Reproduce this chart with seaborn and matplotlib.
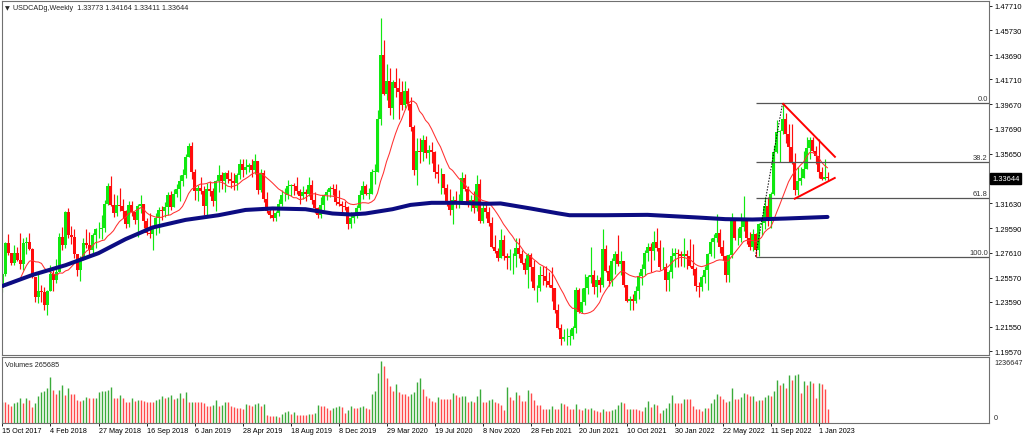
import numpy as np
import pandas as pd
import matplotlib
matplotlib.use("Agg")
import matplotlib.pyplot as plt
import seaborn as sns

# ---------------- data (weekly USDCAD) ----------------
start_label_dates = ["15 Oct 2017", "4 Feb 2018", "27 May 2018", "16 Sep 2018", "6 Jan 2019",
                     "28 Apr 2019", "18 Aug 2019", "8 Dec 2019", "29 Mar 2020", "19 Jul 2020",
                     "8 Nov 2020", "28 Feb 2021", "20 Jun 2021", "10 Oct 2021", "30 Jan 2022",
                     "22 May 2022", "11 Sep 2022", "1 Jan 2023"]

# closes of the 12 weeks before the first visible bar (needed for the moving average)
prior_closes = [1.2450, 1.2700, 1.2710, 1.2600, 1.2500, 1.2420, 1.2150, 1.2200, 1.2340, 1.2480, 1.2550, 1.2470]

closes = [
    # 2017
    1.2590, 1.2840, 1.2760, 1.2680, 1.2760, 1.2700, 1.2670, 1.2840, 1.2850, 1.2790, 1.2560,
    # 2018
    1.2400, 1.2450, 1.2440, 1.2330, 1.2450, 1.2590, 1.2540, 1.2600, 1.2890, 1.2820, 1.3090, 1.2900, 1.2890,
    1.2750, 1.2620, 1.2700, 1.2840, 1.2820, 1.2780, 1.2900, 1.2950, 1.2950, 1.2960, 1.3160, 1.3300, 1.3150,
    1.3080, 1.3150, 1.3140, 1.3100, 1.2990, 1.3150, 1.3090, 1.3030, 1.3140, 1.3160, 1.3020, 1.2920, 1.2910,
    1.2960, 1.3040, 1.3110, 1.3100, 1.3130, 1.3230, 1.3130, 1.3240, 1.3280, 1.3340, 1.3390, 1.3540, 1.3630,
    # 2019
    1.3420, 1.3260, 1.3290, 1.3260, 1.3140, 1.3280, 1.3260, 1.3180, 1.3340, 1.3390, 1.3340, 1.3410, 1.3360,
    1.3340, 1.3330, 1.3390, 1.3480, 1.3430, 1.3460, 1.3470, 1.3430, 1.3510, 1.3270, 1.3410, 1.3200, 1.3100,
    1.3070, 1.3040, 1.3080, 1.3160, 1.3230, 1.3230, 1.3300, 1.3310, 1.3300, 1.3260, 1.3220, 1.3250, 1.3240,
    1.3310, 1.3190, 1.3120, 1.3070, 1.3150, 1.3230, 1.3250, 1.3290, 1.3280, 1.3170, 1.3160, 1.3140, 1.3130,
    1.2990,
    # 2020
    1.3040, 1.3070, 1.3120, 1.3230, 1.3300, 1.3240, 1.3240, 1.3420, 1.3420, 1.3850, 1.4370, 1.4050, 1.4160,
    1.3940, 1.4150, 1.4100, 1.4070, 1.3960, 1.4080, 1.3970, 1.3780, 1.3430, 1.3590, 1.3580, 1.3680, 1.3570,
    1.3600, 1.3580, 1.3420, 1.3400, 1.3400, 1.3290, 1.3180, 1.3110, 1.3190, 1.3180, 1.3180, 1.3370, 1.3280,
    1.3150, 1.3190, 1.3120, 1.3320, 1.3020, 1.3120, 1.3090, 1.3000, 1.2810, 1.2770, 1.2720, 1.2860, 1.2730,
    # 2021
    1.2720, 1.2730, 1.2730, 1.2800, 1.2750, 1.2680, 1.2620, 1.2740, 1.2640, 1.2470, 1.2470, 1.2580, 1.2570,
    1.2530, 1.2500, 1.2470, 1.2290, 1.2150, 1.2060, 1.2070, 1.2070, 1.2080, 1.2150, 1.2460, 1.2280, 1.2360,
    1.2470, 1.2560, 1.2580, 1.2480, 1.2540, 1.2500, 1.2790, 1.2610, 1.2530, 1.2690, 1.2750, 1.2670, 1.2690,
    1.2500, 1.2370, 1.2380, 1.2370, 1.2450, 1.2570, 1.2630, 1.2760, 1.2810, 1.2770, 1.2850, 1.2800, 1.2640,
    # 2022
    1.2640, 1.2540, 1.2600, 1.2730, 1.2760, 1.2750, 1.2730, 1.2750, 1.2730, 1.2650, 1.2630, 1.2490, 1.2480,
    1.2560, 1.2620, 1.2750, 1.2850, 1.2880, 1.2920, 1.2810, 1.2730, 1.2580, 1.2740, 1.3040, 1.2880, 1.2880,
    1.2970, 1.3030, 1.2880, 1.2810, 1.2910, 1.2780, 1.2990, 1.3000, 1.3140, 1.3040, 1.3240, 1.3580, 1.3740,
    1.3750, 1.3850, 1.3730, 1.3620, 1.3490, 1.3270, 1.3340, 1.3370, 1.3440, 1.3610, 1.3680, 1.3590, 1.3550,
    # 2023
    1.3420, 1.3360, 1.33773, 1.33644,
]

highs = [
    1.2600, 1.2850, 1.2915, 1.2760, 1.2820, 1.2810, 1.2920, 1.2880, 1.2890, 1.2920, 1.2800,
    1.2560, 1.2590, 1.2500, 1.2480, 1.2460, 1.2660, 1.2620, 1.2710, 1.2920, 1.2970, 1.3100, 1.3125, 1.2980,
    1.2950, 1.2740, 1.2730, 1.2880, 1.2950, 1.2930, 1.2920, 1.2960, 1.3010, 1.3070, 1.3190, 1.3330, 1.3386,
    1.3240, 1.3230, 1.3290, 1.3200, 1.3110, 1.3180, 1.3180, 1.3090, 1.3160, 1.3230, 1.3160, 1.3040, 1.3080,
    1.2980, 1.3080, 1.3130, 1.3140, 1.3170, 1.3250, 1.3260, 1.3280, 1.3320, 1.3390, 1.3440, 1.3560, 1.3650,
    1.3665, 1.3440, 1.3310, 1.3380, 1.3300, 1.3330, 1.3340, 1.3290, 1.3350, 1.3470, 1.3420, 1.3420, 1.3430,
    1.3420, 1.3410, 1.3410, 1.3520, 1.3520, 1.3520, 1.3490, 1.3520, 1.3565, 1.3510, 1.3440, 1.3430, 1.3250,
    1.3120, 1.3130, 1.3100, 1.3200, 1.3270, 1.3290, 1.3350, 1.3320, 1.3330, 1.3380, 1.3280, 1.3300, 1.3280,
    1.3380, 1.3350, 1.3250, 1.3130, 1.3210, 1.3240, 1.3280, 1.3300, 1.3320, 1.3320, 1.3270, 1.3180, 1.3180,
    1.3140,
    1.3090, 1.3080, 1.3150, 1.3270, 1.3340, 1.3320, 1.3290, 1.3440, 1.3480, 1.3920, 1.4667, 1.4490, 1.4300,
    1.4260, 1.4170, 1.4260, 1.4180, 1.4160, 1.4160, 1.4100, 1.4030, 1.3800, 1.3690, 1.3690, 1.3720, 1.3710,
    1.3640, 1.3660, 1.3590, 1.3480, 1.3450, 1.3390, 1.3320, 1.3280, 1.3220, 1.3260, 1.3240, 1.3420, 1.3400,
    1.3300, 1.3230, 1.3260, 1.3390, 1.3360, 1.3170, 1.3160, 1.3130, 1.3050, 1.2900, 1.2800, 1.2950, 1.2900,
    1.2760, 1.2790, 1.2760, 1.2880, 1.2880, 1.2780, 1.2720, 1.2760, 1.2760, 1.2700, 1.2500, 1.2650, 1.2650,
    1.2650, 1.2600, 1.2640, 1.2460, 1.2340, 1.2180, 1.2140, 1.2150, 1.2140, 1.2160, 1.2480, 1.2470, 1.2470,
    1.2590, 1.2580, 1.2810, 1.2620, 1.2580, 1.2560, 1.2950, 1.2820, 1.2660, 1.2720, 1.2770, 1.2900, 1.2770,
    1.2690, 1.2500, 1.2410, 1.2420, 1.2490, 1.2600, 1.2670, 1.2780, 1.2840, 1.2840, 1.2940, 1.2960, 1.2860,
    1.2810, 1.2680, 1.2620, 1.2800, 1.2800, 1.2790, 1.2770, 1.2880, 1.2780, 1.2870, 1.2830, 1.2640, 1.2520,
    1.2580, 1.2650, 1.2760, 1.2880, 1.2910, 1.3077, 1.2950, 1.2860, 1.2740, 1.2750, 1.3080, 1.3040, 1.2960,
    1.3080, 1.3220, 1.3030, 1.2930, 1.2950, 1.2920, 1.3000, 1.3060, 1.3210, 1.3210, 1.3250, 1.3640, 1.3840,
    1.3760, 1.3977, 1.3900, 1.3810, 1.3808, 1.3570, 1.3460, 1.3460, 1.3590, 1.3700, 1.3700, 1.3700, 1.3630,
    1.3685, 1.3460, 1.3520, 1.34164,
]

lows = [
    1.2440, 1.2570, 1.2740, 1.2660, 1.2660, 1.2690, 1.2630, 1.2620, 1.2750, 1.2780, 1.2550,
    1.2360, 1.2350, 1.2360, 1.2290, 1.2250, 1.2450, 1.2450, 1.2510, 1.2600, 1.2780, 1.2800, 1.2880, 1.2830,
    1.2720, 1.2570, 1.2530, 1.2700, 1.2800, 1.2740, 1.2730, 1.2800, 1.2880, 1.2870, 1.2930, 1.3150, 1.3140,
    1.3050, 1.3060, 1.3100, 1.3040, 1.2960, 1.2970, 1.3060, 1.2990, 1.2890, 1.3080, 1.2960, 1.2900, 1.2880,
    1.2780, 1.2900, 1.2920, 1.3030, 1.3050, 1.3070, 1.3110, 1.3150, 1.3210, 1.3180, 1.3300, 1.3370, 1.3540,
    1.3360, 1.3190, 1.3180, 1.3240, 1.3070, 1.3070, 1.3220, 1.3140, 1.3100, 1.3250, 1.3280, 1.3250, 1.3330,
    1.3290, 1.3270, 1.3270, 1.3360, 1.3380, 1.3400, 1.3420, 1.3380, 1.3400, 1.3240, 1.3250, 1.3170, 1.3080,
    1.3040, 1.3020, 1.3016, 1.3060, 1.3140, 1.3180, 1.3200, 1.3220, 1.3230, 1.3240, 1.3160, 1.3200, 1.3180,
    1.3220, 1.3160, 1.3080, 1.3040, 1.3040, 1.3110, 1.3190, 1.3210, 1.3230, 1.3150, 1.3140, 1.3090, 1.3110,
    1.2950,
    1.2960, 1.3000, 1.3040, 1.3110, 1.3200, 1.3230, 1.3200, 1.3240, 1.3320, 1.3460, 1.3800, 1.4040, 1.4000,
    1.3880, 1.3850, 1.4030, 1.3850, 1.3920, 1.3940, 1.3920, 1.3750, 1.3390, 1.3315, 1.3490, 1.3510, 1.3530,
    1.3480, 1.3490, 1.3370, 1.3330, 1.3240, 1.3240, 1.3140, 1.3070, 1.2990, 1.3120, 1.3120, 1.3180, 1.3260,
    1.3130, 1.3100, 1.3080, 1.3100, 1.3000, 1.3000, 1.3040, 1.2980, 1.2800, 1.2760, 1.2690, 1.2720, 1.2700,
    1.2630, 1.2620, 1.2590, 1.2640, 1.2720, 1.2670, 1.2590, 1.2470, 1.2530, 1.2460, 1.2360, 1.2450, 1.2500,
    1.2480, 1.2480, 1.2370, 1.2270, 1.2140, 1.2010, 1.2040, 1.2010, 1.2007, 1.2060, 1.2110, 1.2270, 1.2270,
    1.2330, 1.2420, 1.2510, 1.2420, 1.2400, 1.2440, 1.2480, 1.2600, 1.2490, 1.2490, 1.2590, 1.2650, 1.2580,
    1.2480, 1.2360, 1.2290, 1.2290, 1.2350, 1.2380, 1.2500, 1.2580, 1.2690, 1.2600, 1.2700, 1.2770, 1.2620,
    1.2630, 1.2450, 1.2450, 1.2550, 1.2640, 1.2640, 1.2650, 1.2640, 1.2630, 1.2640, 1.2580, 1.2450, 1.2400,
    1.2450, 1.2510, 1.2460, 1.2730, 1.2720, 1.2850, 1.2760, 1.2700, 1.2520, 1.2520, 1.2720, 1.2860, 1.2820,
    1.2850, 1.2940, 1.2830, 1.2780, 1.2770, 1.2728, 1.2730, 1.2900, 1.2950, 1.2980, 1.2960, 1.3230, 1.3570,
    1.3500, 1.3730, 1.3650, 1.3500, 1.3480, 1.3226, 1.3230, 1.3310, 1.3380, 1.3440, 1.3520, 1.3580, 1.3480,
    1.3370, 1.3350, 1.3350, 1.33411,
]

# tick volumes in thousands
volumes_k = [
    405, 405, 372, 338, 392, 419, 487, 392, 487, 459, 304,
    392, 527, 622, 642, 689, 912, 662, 574, 662, 757,
    554, 689, 574, 574, 459, 439, 459, 520, 493, 487,
    493, 622, 635, 642, 649, 709, 487, 487, 554, 487,
    419, 419, 487, 439, 459, 459, 439, 405, 405, 405,
    459, 473, 541, 487, 520, 554, 473, 500, 595, 500,
    608, 405, 419, 405, 405, 405, 392, 338, 338, 351,
    453, 338, 351, 405, 405, 324, 304, 291, 284, 270,
    365, 351, 338, 365, 392, 338, 365, 149, 135, 122,
    135, 108, 162, 216, 230, 169, 203, 149, 149, 149,
    149, 169, 162, 189, 351, 338, 324, 284, 257, 284,
    311, 338, 304, 189, 250, 324, 284, 284, 304, 324,
    284, 270, 574, 642, 1000, 1236.647, 1149, 892, 730, 642,
    777, 622, 574, 574, 527, 574, 622, 824, 892, 676,
    541, 487, 439, 419, 520, 473, 473, 473, 473, 588,
    554, 507, 527, 541, 419, 439, 405, 541, 676, 419,
    419, 459, 473, 419, 392, 351, 257, 709, 507, 446,
    615, 547, 432, 432, 655, 588, 453, 345, 345, 264,
    264, 277, 331, 277, 277, 399, 365, 331, 264, 264,
    365, 277, 250, 297, 277, 297, 250, 230, 209, 277,
    223, 223, 250, 277, 345, 419, 385, 264, 277, 277,
    264, 250, 230, 318, 432, 318, 365, 345, 196, 250,
    297, 385, 547, 385, 385, 385, 480, 480, 480, 331,
    264, 264, 223, 284, 284, 385, 480, 581, 534, 480,
    412, 432, 703, 480, 480, 520, 588, 581, 527, 534,
    432, 453, 453, 520, 547, 534, 635, 858, 764, 791,
    703, 966, 851, 959, 973, 601, 831, 764, 845, 804,
    500, 791, 770, 682, 265.685,
]

# 200-period moving average (bar index, value)
ma200_idx = [0, 10, 21, 32, 41, 50, 61, 72, 81, 90, 101, 110, 116, 121, 130, 136, 143, 152,
             161, 166, 176, 185, 189, 201, 215, 232, 241, 250, 261, 275]
ma200_val = [1.2489, 1.2579, 1.2658, 1.2756, 1.2870, 1.2965, 1.3027, 1.3065, 1.3108, 1.3120,
             1.3114, 1.3079, 1.3071, 1.3079, 1.3114, 1.3149, 1.3166, 1.3166, 1.3158, 1.3161,
             1.3120, 1.3081, 1.3065, 1.3065, 1.3068, 1.3046, 1.3033, 1.3030, 1.3038, 1.3051]

# Fibonacci retracement anchors (bar index, price) and levels
fib_low_bar, fib_low = 251, 1.2728
fib_high_bar, fib_high = 260, 1.3977
fib_levels = [0.0, 38.2, 61.8, 100.0]
fib_names = ["0.0", "38.2", "61.8", "100.0"]

# triangle trend lines (bar index, price)
tri_upper_x, tri_upper_y = [260, 277.7], [1.3977, 1.3535]
tri_lower_x, tri_lower_y = [263.8, 277.7], [1.3196, 1.3372]

price_ticks = [1.47710, 1.45730, 1.43690, 1.41710, 1.39670, 1.37690, 1.35650,
               1.31630, 1.29590, 1.27610, 1.25570, 1.23590, 1.21550, 1.19570]
last_price = 1.33644
title_text = "USDCADg,Weekly  1.33773 1.34164 1.33411 1.33644"
vol_title = "Volumes 265685"
vol_max_label = "1236647"

# ---------------- derived ----------------
n = len(closes)
assert len(highs) == n and len(lows) == n and len(volumes_k) == n, (n, len(highs), len(lows), len(volumes_k))
idx = np.arange(n)
closes_a = np.array(closes)
opens_a = np.r_[prior_closes[-1], closes_a[:-1]]
highs_a = np.maximum.reduce([np.array(highs), opens_a, closes_a])
lows_a = np.minimum.reduce([np.array(lows), opens_a, closes_a])
up = closes_a >= opens_a
ma13 = pd.Series(np.r_[prior_closes, closes_a]).rolling(13).mean().values[len(prior_closes):]
vols = np.array(volumes_k) * 1000.0
vol_up = np.r_[True, vols[1:] > vols[:-1]]

# ---------------- figure ----------------
sns.set_style("white")
plt.rcParams["font.family"] = ["Liberation Sans", "DejaVu Sans"]

W, H = 1024, 439
fig = plt.figure(figsize=(W / 100, H / 100), dpi=100)
fig.patch.set_facecolor("white")


def rect(x0, y0, x1, y1):
    return [x0 / W, 1 - y1 / H, (x1 - x0) / W, (y1 - y0) / H]


ax = fig.add_axes(rect(1.5, 2, 989, 355.5))
axv = fig.add_axes(rect(1.5, 357.5, 989, 423.5))

xl = (-0.333, 328.83)
UPC, DNC = "#10e810", "#ff0c0c"
ccol = np.where(up, UPC, DNC)

# candles
ax.vlines(idx, lows_a, highs_a, colors=ccol, lw=0.85, zorder=2)
body_lo = np.minimum(opens_a, closes_a)
body_h = np.maximum(np.abs(closes_a - opens_a), 0.00025)
ax.bar(idx, body_h, bottom=body_lo, width=0.72, color=ccol, linewidth=0, zorder=2)

# moving averages
sns.lineplot(x=idx, y=ma13, ax=ax, color="#ff3030", linewidth=0.75, zorder=3)
sns.lineplot(x=ma200_idx, y=ma200_val, ax=ax, color="#0c0c82", linewidth=2.9, zorder=4)

# fibonacci
rng = fib_high - fib_low
for lv, name in zip(fib_levels, fib_names):
    p = fib_high - lv / 100.0 * rng
    ax.hlines(p, fib_low_bar, xl[1], colors="#555555", lw=0.9, zorder=5)
    ax.text(xl[1] - 0.4, p + 0.0006, name, ha="right", va="bottom", fontsize=5.4, color="#333333", zorder=6)
ax.plot([fib_low_bar, fib_high_bar], [fib_low, fib_high], color="black", lw=0.7,
        ls=(0, (1.5, 1.5)), zorder=5)

# triangle
ax.plot(tri_upper_x, tri_upper_y, color="#ff0000", lw=1.4, zorder=6, solid_capstyle="butt")
ax.plot(tri_lower_x, tri_lower_y, color="#ff0000", lw=1.4, zorder=6, solid_capstyle="butt")

ax.set_xlim(*xl)
ax.set_ylim(1.19309, 1.48093)
ax.set_xticks([])
ax.yaxis.tick_right()
ax.set_yticks(price_ticks)
ax.set_yticklabels([f"{t:.5f}" for t in price_ticks])
ax.tick_params(axis="y", which="both", left=False, right=True, length=2.2, width=0.6,
               pad=1.5, labelsize=5.4, colors="black")
ax.set_ylabel("")
for s in ax.spines.values():
    s.set_color("#707070")
    s.set_linewidth(0.8)

ax.annotate(f"{last_price:.5f}", xy=(1.0, last_price), xycoords=("axes fraction", "data"),
            xytext=(2.2, 0), textcoords="offset points", ha="left", va="center",
            fontsize=5.4, color="white",
            bbox=dict(boxstyle="square,pad=0.25", fc="black", ec="black"), annotation_clip=False)

fig.text(5 / W, 1 - 8.3 / H, "▼", fontsize=4.5, va="center", ha="left", family="DejaVu Sans")
fig.text(13 / W, 1 - 8.3 / H, title_text, fontsize=5.2, va="center", ha="left")

# volumes
vcol = np.where(vol_up, "#3aab3a", "#ff4a4a")
axv.vlines(idx, 0, vols, colors=vcol, lw=1.0)
axv.set_xlim(*xl)
axv.set_ylim(0, 1236647 * 66 / 61.2)
axv.set_yticks([])
label_pos = list(range(0, n, 16))
axv.set_xticks(label_pos)
axv.set_xticklabels(start_label_dates[:len(label_pos)])
for lbl in axv.get_xticklabels():
    lbl.set_ha("left")
axv.tick_params(axis="x", length=2, width=0.6, pad=1.2, labelsize=5.2, colors="black", bottom=True)
for s in axv.spines.values():
    s.set_color("#707070")
    s.set_linewidth(0.8)
axv.text(0.004, 0.88, vol_title, transform=axv.transAxes, fontsize=5.2, va="center", ha="left")
fig.text(994 / W, 1 - 363.3 / H, vol_max_label, fontsize=5.2, va="center", ha="left")
fig.text(994 / W, 1 - 418.3 / H, "0", fontsize=5.2, va="center", ha="left")

fig.savefig("out.png", dpi=100, facecolor="white")
